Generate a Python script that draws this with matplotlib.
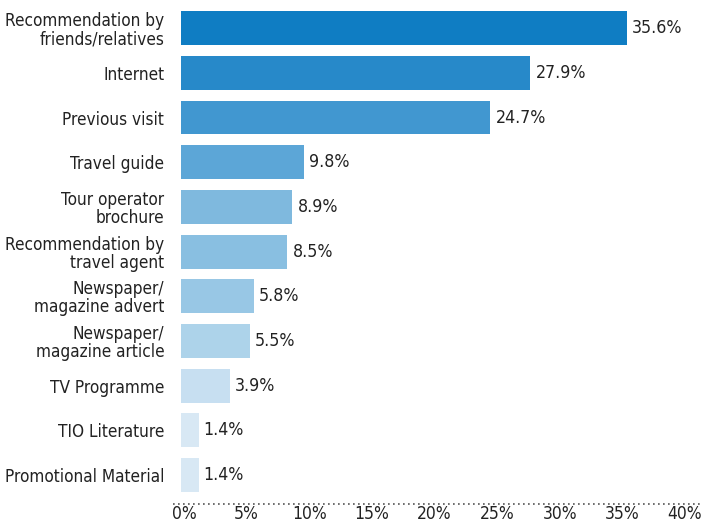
import matplotlib
matplotlib.use("Agg")
import matplotlib.pyplot as plt
import matplotlib.transforms as mtransforms
from matplotlib.lines import Line2D

# Data
categories = [
    "Recommendation by\nfriends/relatives",
    "Internet",
    "Previous visit",
    "Travel guide",
    "Tour operator\nbrochure",
    "Recommendation by\ntravel agent",
    "Newspaper/\nmagazine advert",
    "Newspaper/\nmagazine article",
    "TV Programme",
    "TIO Literature",
    "Promotional Material",
]
values = [35.6, 27.9, 24.7, 9.8, 8.9, 8.5, 5.8, 5.5, 3.9, 1.4, 1.4]
bar_colors = [
    "#0f7dc3", "#2789c9", "#4197d0", "#5ca6d7", "#7fb9de", "#89bfe1",
    "#98c7e5", "#add3ea", "#c7dff1", "#d8e8f4", "#d8e8f4",
]
ticks = [0, 5, 10, 15, 20, 25, 30, 35, 40]
tick_labels = [f"{t}%" for t in ticks]

# The reference uses a condensed face; DejaVu Sans Condensed is the closest we have
plt.rcParams["font.family"] = ["DejaVu Sans"]
plt.rcParams["font.stretch"] = "condensed"
FS = 12.3

fig = plt.figure(figsize=(7.04, 5.24), dpi=100)
ax = fig.add_axes([181 / 704, 20 / 524, (682 - 181) / 704, (524 - 20) / 524])

y = list(range(len(categories)))
ax.barh(y, values, height=0.76, color=bar_colors)

for yi, v in zip(y, values):
    ax.text(v + 0.4, yi, f"{v}%", va="center", ha="left",
            fontsize=FS + 0.4, color="#222222")

ax.set_xlim(0, 40)
ax.set_ylim(10.65, -0.63)
ax.set_yticks(y)
ax.set_yticklabels(categories, fontsize=FS, color="#222222",
                   linespacing=1.0)
ax.set_xticks(ticks)
ax.set_xticklabels(tick_labels, fontsize=FS + 0.2, color="#222222")
ax.tick_params(length=0, axis="y", pad=12)
ax.tick_params(length=0, axis="x", pad=1)

# x tick labels sit slightly right of their tick positions in the reference
shift = mtransforms.ScaledTranslation(3 / 100, 0, fig.dpi_scale_trans)
for lbl in ax.get_xticklabels():
    lbl.set_transform(lbl.get_transform() + shift)

for s in ax.spines.values():
    s.set_visible(False)

# dotted baseline extending a bit beyond the plot area
fig.add_artist(Line2D([173 / 704, 700 / 704], [1 - 504 / 524, 1 - 504 / 524],
                      transform=fig.transFigure, color="#555555",
                      linestyle=(0, (1, 2)), linewidth=1.2))

fig.savefig("out.png", dpi=100)
